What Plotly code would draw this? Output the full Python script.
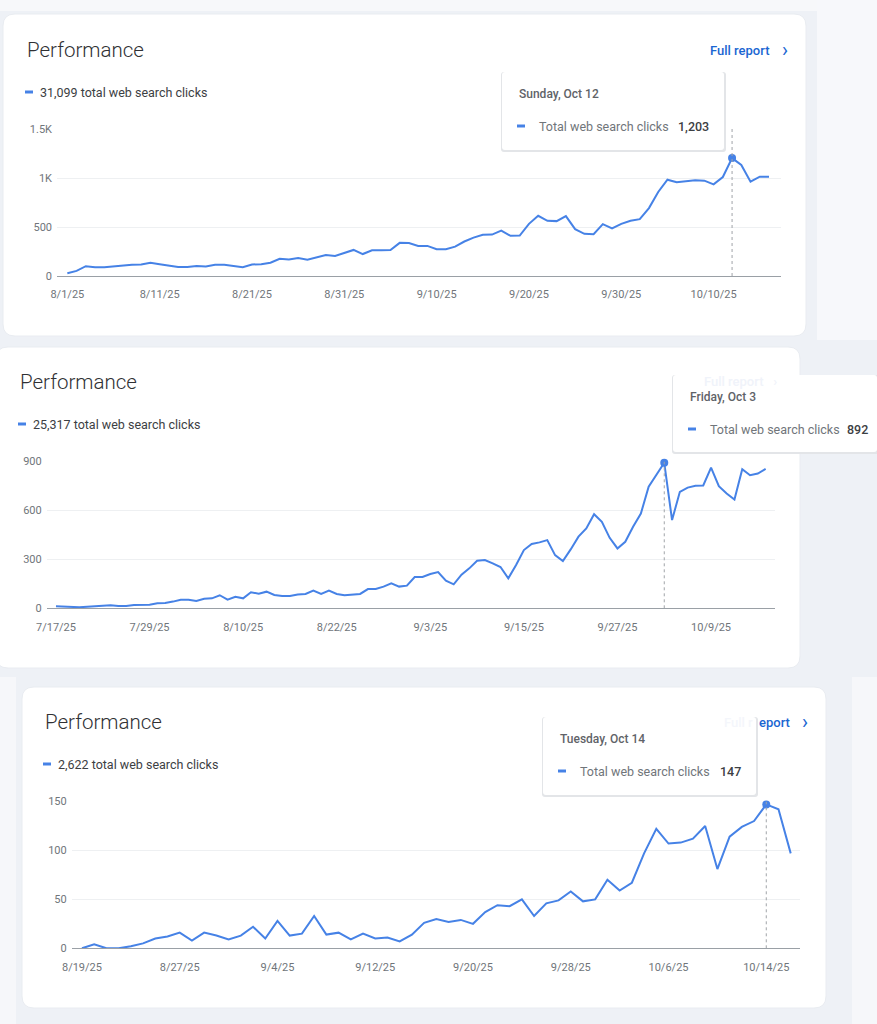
import plotly.graph_objects as go
import pandas as pd

W, H = 877, 1024

# ---------------- data ----------------
p1_start = "2025-08-01"
p1_clicks = [28, 52, 100, 90, 90, 100, 107, 114, 117, 135,
             121, 107, 93, 93, 103, 97, 114, 114, 100, 90,
             117, 121, 135, 176, 169, 183, 166, 193, 214, 204,
             231, 266, 224, 262, 262, 266, 338, 336, 307, 307,
             273, 273, 300, 352, 392, 420, 423, 464, 410, 413,
             532, 614, 563, 560, 611, 478, 430, 427, 529, 485,
             532, 563, 580, 693, 857, 983, 956, 966, 976, 973,
             935, 1010, 1203, 1133, 962, 1014, 1014]
p1_tick_dates = ["2025-08-01", "2025-08-11", "2025-08-21", "2025-08-31",
                 "2025-09-10", "2025-09-20", "2025-09-30", "2025-10-10"]
p1_tick_text = ["8/1/25", "8/11/25", "8/21/25", "8/31/25",
                "9/10/25", "9/20/25", "9/30/25", "10/10/25"]
p1_y_ticks = [0, 500, 1000, 1500]
p1_y_text = ["0", "500", "1K", "1.5K"]
p1_total = "31,099 total web search clicks"
p1_tip_date = "Sunday, Oct 12"
p1_tip_value = "1,203"

p2_start = "2025-07-17"
p2_clicks = [12, 10, 4, 6, 10, 12, 18, 18, 14, 14,
             20, 22, 22, 31, 33, 41, 53, 53, 45, 59,
             61, 80, 53, 71, 61, 98, 90, 102, 82, 75,
             75, 84, 88, 108, 88, 108, 88, 80, 82, 88,
             118, 118, 133, 153, 133, 139, 192, 192, 210, 222,
             169, 147, 206, 245, 292, 296, 275, 253, 184, 265,
             357, 394, 404, 418, 326, 290, 361, 439, 490, 577,
             530, 432, 367, 408, 500, 581, 745, 816, 892, 541,
             714, 740, 751, 753, 863, 749, 704, 667, 853, 816,
             826, 855]
p2_tick_dates = ["2025-07-17", "2025-07-29", "2025-08-10", "2025-08-22",
                 "2025-09-03", "2025-09-15", "2025-09-27", "2025-10-09"]
p2_tick_text = ["7/17/25", "7/29/25", "8/10/25", "8/22/25",
                "9/3/25", "9/15/25", "9/27/25", "10/9/25"]
p2_y_ticks = [0, 300, 600, 900]
p2_y_text = ["0", "300", "600", "900"]
p2_total = "25,317 total web search clicks"
p2_tip_date = "Friday, Oct 3"
p2_tip_value = "892"

p3_start = "2025-08-19"
p3_clicks = [0, 4, 0, 0, 2, 5, 10, 12, 16, 8,
             16, 13, 9, 13, 22, 10, 28, 13, 15, 33,
             14, 16, 9, 15, 10, 11, 7, 14, 26, 30,
             27, 29, 25, 37, 44, 43, 50, 33, 46, 49,
             58, 48, 50, 70, 59, 67, 97, 122, 107, 108,
             112, 125, 81, 114, 124, 130, 147, 142, 97]
p3_tick_dates = ["2025-08-19", "2025-08-27", "2025-09-04", "2025-09-12",
                 "2025-09-20", "2025-09-28", "2025-10-06", "2025-10-14"]
p3_tick_text = ["8/19/25", "8/27/25", "9/4/25", "9/12/25",
                "9/20/25", "9/28/25", "10/6/25", "10/14/25"]
p3_y_ticks = [0, 50, 100, 150]
p3_y_text = ["0", "50", "100", "150"]
p3_total = "2,622 total web search clicks"
p3_tip_date = "Tuesday, Oct 14"
p3_tip_value = "147"

title_text = "Performance"
link_text = "Full report"
tip_label = "Total web search clicks"

# ---------------- styling ----------------
BLUE = "#4682e6"
LINK = "#1a66d2"
FONT = "Roboto"
BG = "#eef1f6"


def px(x):
    return x / W


def py(y):
    return 1 - y / H


def rrect_path(x0, y0, x1, y1, r):
    pts = [
        f"M {px(x0+r)},{py(y0)}",
        f"L {px(x1-r)},{py(y0)}",
        f"Q {px(x1)},{py(y0)} {px(x1)},{py(y0+r)}",
        f"L {px(x1)},{py(y1-r)}",
        f"Q {px(x1)},{py(y1)} {px(x1-r)},{py(y1)}",
        f"L {px(x0+r)},{py(y1)}",
        f"Q {px(x0)},{py(y1)} {px(x0)},{py(y1-r)}",
        f"L {px(x0)},{py(y0+r)}",
        f"Q {px(x0)},{py(y0)} {px(x0+r)},{py(y0)}",
        "Z",
    ]
    return " ".join(pts)


fig = go.Figure()
shapes = []
annotations = []


def add_rect(x0, y0, x1, y1, color, r=0, line=None, layer="below"):
    if r > 0:
        shapes.append(dict(type="path", xref="paper", yref="paper",
                           path=rrect_path(x0, y0, x1, y1, r),
                           fillcolor=color,
                           line=dict(width=1 if line else 0, color=line or color),
                           layer=layer))
    else:
        shapes.append(dict(type="rect", xref="paper", yref="paper",
                           x0=px(x0), x1=px(x1), y0=py(y1), y1=py(y0),
                           fillcolor=color, line=dict(width=0), layer=layer))


def add_text(x, y, text, size, color, anchor="left", weight=400, family=FONT):
    annotations.append(dict(xref="paper", yref="paper", x=px(x), y=py(y),
                            text=text, showarrow=False, xanchor=anchor,
                            yanchor="middle",
                            font=dict(family=family, size=size, color=color,
                                      weight=weight)))


# background pieces (collage of screenshots)
add_rect(0, 0, 877, 11, "#f7f8fa")
add_rect(817, 0, 877, 340, "#f7f8fb")
add_rect(852, 677, 877, 1024, "#f6f7fa")
add_rect(0, 677, 16, 1024, "#f6f7fa")

# cards
add_rect(3, 14, 806, 336, "white", r=12, line="#e9ecf1")
add_rect(-4, 347, 800, 668, "white", r=12, line="#e9ecf1")
add_rect(22, 687, 826, 1008, "white", r=12, line="#e9ecf1")

panels = [
    dict(start=p1_start, vals=p1_clicks, td=p1_tick_dates, tt=p1_tick_text,
         yt=p1_y_ticks, ytt=p1_y_text, total=p1_total,
         x0=57, x1=781, ybot=276, ytop=129, dr=(-1.12, 77.3),
         title=(25, 50), legend=(25, 92), link=(708, 50), link_vis=True,
         tip=(502, 72, 724, 150), tip_date=p1_tip_date, tip_val=p1_tip_value),
    dict(start=p2_start, vals=p2_clicks, td=p2_tick_dates, tt=p2_tick_text,
         yt=p2_y_ticks, ytt=p2_y_text, total=p2_total,
         x0=46.7, x1=775, ybot=608.3, ytop=461.5, dr=(-1.19, 92.2),
         title=(18, 382), legend=(18, 424), link=(702, 381), link_vis=False,
         tip=(673, 375, 877, 452), tip_date=p2_tip_date, tip_val=p2_tip_value),
    dict(start=p3_start, vals=p3_clicks, td=p3_tick_dates, tt=p3_tick_text,
         yt=p3_y_ticks, ytt=p3_y_text, total=p3_total,
         x0=71.7, x1=800, ybot=948.3, ytop=801.5, dr=(-0.84, 58.76),
         title=(43, 722), legend=(43, 764), link=(727, 722), link_vis=None,
         tip=(543, 717, 756, 795), tip_date=p3_tip_date, tip_val=p3_tip_value),
]

layout_axes = {}
for i, p in enumerate(panels, start=1):
    start = pd.Timestamp(p["start"])
    dates = pd.date_range(start, periods=len(p["vals"]), freq="D")
    xa = "x" if i == 1 else f"x{i}"
    ya = "y" if i == 1 else f"y{i}"
    fig.add_trace(go.Scatter(x=dates, y=p["vals"], mode="lines",
                             line=dict(color=BLUE, width=2),
                             xaxis=xa, yaxis=ya, hoverinfo="skip",
                             cliponaxis=False, showlegend=False))
    imax = max(range(len(p["vals"])), key=lambda k: p["vals"][k])
    # hover guide line
    shapes.append(dict(type="line", xref=xa, yref=ya,
                       x0=dates[imax], x1=dates[imax], y0=0, y1=p["yt"][-1],
                       line=dict(color="#a0a4a8", width=1, dash="dot"),
                       layer="above"))
    fig.add_trace(go.Scatter(x=[dates[imax]], y=[p["vals"][imax]],
                             mode="markers",
                             marker=dict(color=BLUE, size=8, symbol="circle",
                                         line=dict(width=0)),
                             xaxis=xa, yaxis=ya, hoverinfo="skip",
                             cliponaxis=False, showlegend=False))
    r0 = start + pd.Timedelta(days=p["dr"][0])
    r1 = start + pd.Timedelta(days=p["dr"][1])
    key = "" if i == 1 else str(i)
    layout_axes["xaxis" + key] = dict(
        domain=[px(p["x0"]), px(p["x1"])], anchor=ya,
        range=[r0, r1], type="date", automargin=False,
        tickvals=p["td"], ticktext=p["tt"], ticks="",
        showgrid=False, zeroline=False, showline=True,
        linecolor="#9aa0a6", linewidth=1,
        tickfont=dict(family=FONT, size=11, color="#70757a"),
        ticklabelstandoff=8, fixedrange=True)
    layout_axes["yaxis" + key] = dict(
        domain=[py(p["ybot"]), py(p["ytop"])], anchor=xa,
        range=[0, p["yt"][-1]], tickvals=p["yt"], ticktext=p["ytt"],
        ticks="", showgrid=True, gridcolor="#eef0f2", gridwidth=1,
        zeroline=False, showline=False, automargin=False,
        tickfont=dict(family=FONT, size=11, color="#70757a"),
        ticklabelstandoff=4, fixedrange=True)

    # header texts
    tx, ty = p["title"]
    add_text(tx, ty, title_text, 20.5, "#303134", weight=300)
    lx, ly = p["legend"]
    shapes.append(dict(type="line", xref="paper", yref="paper",
                       x0=px(lx), x1=px(lx + 8), y0=py(ly), y1=py(ly),
                       line=dict(color=BLUE, width=3), layer="above"))
    add_text(lx + 13, ly, p["total"], 12.5, "#3c4043")

    # full report link
    fx, fy = p["link"]
    if p["link_vis"] is True:
        add_text(fx, fy, link_text, 13, LINK, weight=500)
        add_text(fx + 72, fy, "›", 20, LINK)
    elif p["link_vis"] is False:
        add_text(fx, fy, link_text + "   ›", 13, "#f0f3fa", weight=500)

    # tooltip
    t0x, t0y, t1x, t1y = p["tip"]
    add_rect(t0x - 1, t0y, t1x + 2, t1y + 2, "#e3e5e8", r=3, layer="above")
    add_rect(t0x, t0y, t1x, t1y, "white", r=3, layer="above")
    add_text(t0x + 15, t0y + 22, p["tip_date"], 12, "#5f6368", weight=500)
    row_y = t0y + 54
    shapes.append(dict(type="line", xref="paper", yref="paper",
                       x0=px(t0x + 15), x1=px(t0x + 23), y0=py(row_y), y1=py(row_y),
                       line=dict(color=BLUE, width=3), layer="above"))
    add_text(t0x + 35, row_y, tip_label, 12.5, "#70757a")
    val_right = t1x - 13 if t1x < 877 else 870
    add_text(val_right, row_y, p["tip_val"], 12.5, "#3c4043",
             anchor="right", weight=500)

    if p["link_vis"] is None:
        # link half hidden behind the tooltip
        add_text(757, fy, "eport", 13, LINK, weight=500)
        add_text(755, fy, "Full r", 13, "#f4f6fb", anchor="right", weight=500)
        add_text(800, fy, "›", 20, LINK)

fig.update_layout(
    width=W, height=H,
    margin=dict(l=0, r=0, t=0, b=0, pad=0, autoexpand=False),
    paper_bgcolor=BG, plot_bgcolor="rgba(0,0,0,0)",
    shapes=shapes, annotations=annotations,
    showlegend=False, hovermode=False,
    **layout_axes,
)

fig.write_html("out.html", config={"displayModeBar": False},
               post_script="document.body.style.margin='0';document.body.style.overflow='hidden';")
